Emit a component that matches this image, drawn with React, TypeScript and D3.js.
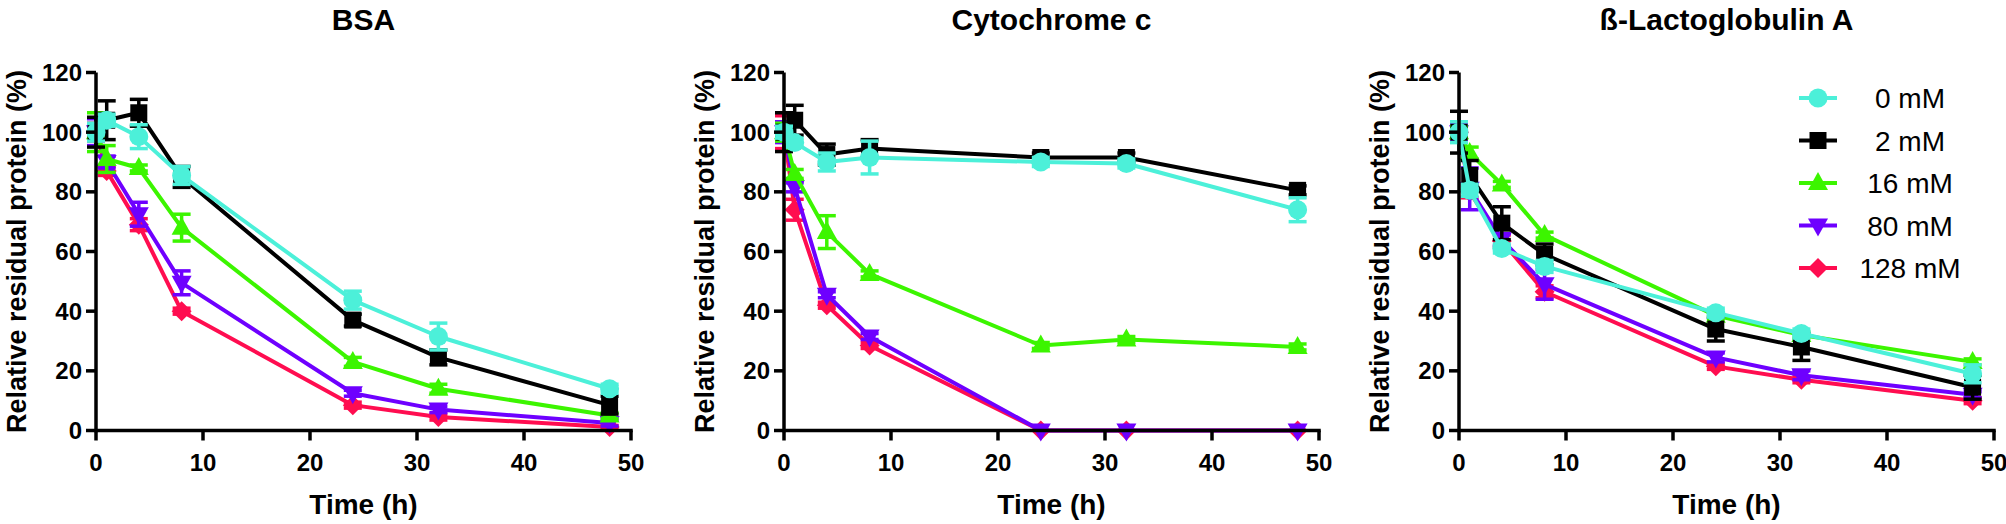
import React from 'react';
import * as d3 from 'd3';

// sampling times (h) and series
const times = [0, 1, 4, 8, 24, 32, 48];
const concentrations = ['0 mM', '2 mM', '16 mM', '80 mM', '128 mM'];
const colors = ['#4CF0D9', '#000000', '#3CF500', '#6E00FF', '#FF0D50'];
const shapes = ['circle', 'square', 'triangleUp', 'triangleDown', 'diamond'];
const panelTitles = ['BSA', 'Cytochrome c', 'ß-Lactoglobulin A'];

const xTicks = [0, 10, 20, 30, 40, 50];
const yTicks = [0, 20, 40, 60, 80, 100, 120];

// BSA: one row per concentration (0, 2, 16, 80, 128 mM)
const bsaMeans = [
  [100, 104, 98.5, 85.5, 43.7, 31.5, 14],
  [100, 104, 106.5, 85, 37, 24.5, 8.5],
  [100, 91, 88, 68, 23, 14, 5],
  [100, 90, 72.5, 49.5, 12.5, 7, 2.5],
  [100, 87, 69, 40, 8.5, 4.5, 1.2],
];
const bsaErrors = [
  [3, 2, 4, 3, 3, 4.5, 1.5],
  [5, 6.5, 4.5, 3.5, 2, 2.5, 3],
  [6.5, 4.5, 1, 4.5, 1.5, 1.5, 1],
  [4.5, 2, 4, 4, 1, 1, 1],
  [3, 1.5, 2, 1, 1, 1, 0.5],
];

const cytMeans = [
  [100, 96.5, 90, 91.5, 90, 89.5, 74],
  [100, 104, 92.5, 94.5, 91.5, 91.5, 80.5],
  [100, 86, 66.5, 52.5, 28.5, 30.5, 28],
  [100, 81.5, 45.5, 31.5, 0, 0, 0],
  [100, 74, 42, 28.5, 0, 0, 0],
];
const cytErrors = [
  [2, 1.5, 3, 5.5, 1.5, 1.5, 4],
  [6.5, 5, 3.5, 3, 1.5, 1.5, 1.5],
  [3, 1.5, 5.5, 1, 1, 1, 1],
  [3.5, 1.5, 1, 1, 0, 0, 0],
  [5.5, 3.5, 1, 1, 0, 0, 0],
];

const lacMeans = [
  [100, 80.5, 61, 55, 39.5, 32.5, 19],
  [100, 85.5, 69.5, 59, 34, 28, 14.5],
  [100, 93, 82.5, 65.5, 38.5, 32, 23],
  [100, 81, 64, 49, 24.5, 18.5, 12],
  [100, 80, 63.5, 46.5, 21.5, 17, 10],
];
const lacErrors = [
  [3.5, 2, 1.5, 2, 1.5, 1.5, 3],
  [7, 5, 5.5, 3.5, 4, 4.5, 4],
  [2, 2, 1, 1, 1, 1, 1],
  [3, 7, 2, 5, 1.5, 1.5, 1],
  [2, 2, 2, 2, 1, 1, 1],
];

const panelMeans = [bsaMeans, cytMeans, lacMeans];
const panelErrors = [bsaErrors, cytErrors, lacErrors];

const W = 2006;
const H = 524;
const panelLeft = [96, 784, 1459];
const plotW = 535;
const yBottom = 430.5;
const yTop = 72.5;
const FONT = '"Liberation Sans", Arial, Helvetica, sans-serif';

function markerPath(shape: string): string {
  switch (shape) {
    case 'circle':
      return d3.symbol(d3.symbolCircle, Math.PI * 9.5 * 9.5)() as string;
    case 'square':
      return d3.symbol(d3.symbolSquare, 17 * 17)() as string;
    case 'triangleUp':
      return 'M0,-11L10,7L-10,7Z';
    case 'triangleDown':
      return 'M0,11L10,-7L-10,-7Z';
    default:
      return 'M0,-10L10,0L0,10L-10,0Z';
  }
}

function Panel({ index }: { index: number }) {
  const left = panelLeft[index];
  const x = d3.scaleLinear().domain([0, 50]).range([left, left + plotW]);
  const y = d3.scaleLinear().domain([0, 120]).range([yBottom, yTop]);
  const means = panelMeans[index];
  const errors = panelErrors[index];
  const line = d3.line<number>().x((_, i) => x(times[i])).y(d => y(d));
  const order = [4, 3, 2, 1, 0];
  const cx = left + plotW / 2;

  return (
    <g>
      <text x={cx} y={30} textAnchor="middle" fontSize={30} fontWeight="bold" fontFamily={FONT}>
        {panelTitles[index]}
      </text>
      {/* series, drawn from 128 mM up to 0 mM */}
      {order.map(s => (
        <g key={s}>
          {means[s].map((m, i) => errors[s][i] > 0 ? (
            <g key={i} stroke={colors[s]} strokeWidth={3.5}>
              <line x1={x(times[i])} x2={x(times[i])} y1={y(m + errors[s][i])} y2={y(m - errors[s][i])} />
              <line x1={x(times[i]) - 9} x2={x(times[i]) + 9} y1={y(m + errors[s][i])} y2={y(m + errors[s][i])} />
              <line x1={x(times[i]) - 9} x2={x(times[i]) + 9} y1={y(m - errors[s][i])} y2={y(m - errors[s][i])} />
            </g>
          ) : null)}
          <path d={line(means[s]) as string} fill="none" stroke={colors[s]} strokeWidth={4} strokeLinejoin="round" />
          {means[s].map((m, i) => (
            <path key={i} d={markerPath(shapes[s])} transform={`translate(${x(times[i])},${y(m)})`} fill={colors[s]} />
          ))}
        </g>
      ))}
      {/* axes */}
      <g stroke="#000" strokeWidth={3.5} fill="none">
        <line x1={left} x2={left} y1={yTop} y2={yBottom + 1.75} />
        <line x1={left} x2={left + plotW + 1.75} y1={yBottom} y2={yBottom} />
        {yTicks.map(t => (
          <line key={t} x1={left - 10} x2={left} y1={y(t)} y2={y(t)} />
        ))}
        {xTicks.map(t => (
          <line key={t} x1={x(t)} x2={x(t)} y1={yBottom} y2={yBottom + 10} />
        ))}
      </g>
      <g fontFamily={FONT} fontWeight="bold" fontSize={24} fill="#000">
        {yTicks.map(t => (
          <text key={t} x={left - 14} y={y(t)} dy="0.36em" textAnchor="end">{t}</text>
        ))}
        {xTicks.map(t => (
          <text key={t} x={x(t)} y={471} textAnchor="middle">{t}</text>
        ))}
      </g>
      <text x={cx} y={514} textAnchor="middle" fontSize={28} fontWeight="bold" fontFamily={FONT}>Time (h)</text>
      <text
        transform={`translate(${left - 70},${(yTop + yBottom) / 2}) rotate(-90)`}
        textAnchor="middle"
        fontSize={27}
        fontWeight="bold"
        fontFamily={FONT}
      >
        Relative residual protein (%)
      </text>
    </g>
  );
}

function Legend() {
  const rowY = d3.scalePoint<string>().domain(concentrations).range([98, 268]);
  return (
    <g>
      {concentrations.map((c, s) => {
        const yy = rowY(c) as number;
        return (
          <g key={c}>
            <line x1={1799} x2={1837} y1={yy} y2={yy} stroke={colors[s]} strokeWidth={4} />
            <path d={markerPath(shapes[s])} transform={`translate(1818,${yy})`} fill={colors[s]} />
            <text x={1910} y={yy} dy="0.36em" textAnchor="middle" fontSize={28} fontFamily={FONT}>{c}</text>
          </g>
        );
      })}
    </g>
  );
}

export default function App() {
  return (
    <div style={{ position: 'absolute', left: 0, top: 0 }}>
      <svg width={W} height={H} viewBox={`0 0 ${W} ${H}`} style={{ display: 'block', background: '#fff' }}>
        {[0, 1, 2].map(i => <Panel key={i} index={i} />)}
        <Legend />
      </svg>
    </div>
  );
}
